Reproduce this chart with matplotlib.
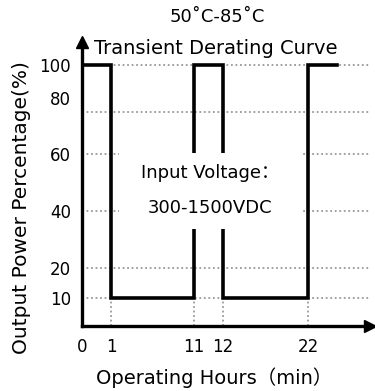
import numpy as np
import matplotlib
matplotlib.use('Agg')
import matplotlib.pyplot as plt
from matplotlib.patches import Rectangle
from matplotlib.transforms import ScaledTranslation

plt.rcParams['font.family'] = ['DejaVu Sans', 'Noto Sans CJK SC']

# transient derating curve (minutes vs output %)
hours = [0, 1, 1, 11, 11, 12, 12, 22, 22, 23]
power = [100, 100, 10, 10, 100, 100, 10, 10, 100, 100]
x_ticks = [0, 1, 11, 12, 22]
y_ticks = [10, 20, 40, 60, 80, 100]
grid_levels = [10, 20, 40, 60, 80, 100]
switch_points = [1, 11, 12, 22]

# the drawing is a schematic, so the axes are not linear
x_knots = [0, 1, 11, 12, 22, 40]
x_px = [0, 29, 112, 141, 226, 748]
y_knots = [0, 10, 20, 40, 60, 80, 100, 140]
y_px = [0, 28, 58, 115, 172, 214, 261, 375]

def xf(v): return np.interp(v, x_knots, x_px)
def xi(v): return np.interp(v, x_px, x_knots)
def yf(v): return np.interp(v, y_knots, y_px)
def yi(v): return np.interp(v, y_px, y_knots)

fig = plt.figure(figsize=(3.75, 3.91), dpi=100)
ax = fig.add_axes([82/375, 65/391, 288/375, 284/391])
ax.set_xscale('function', functions=(xf, xi))
ax.set_yscale('function', functions=(yf, yi))
ax.set_xlim(0, xi(288))
ax.set_ylim(0, yi(284))

for lvl in grid_levels:
    ax.axhline(lvl, color='#999999', lw=1.3, ls=(0, (1, 1.5)), zorder=1)
ax.vlines(switch_points, 0, 10, color='#999999', lw=1.3, ls=(0, (1, 1.5)), zorder=1)

ax.plot(hours, power, color='black', lw=2.6, solid_joinstyle='miter', zorder=3)

ax.add_patch(Rectangle((0.13, 0.34), 0.63, 0.27, transform=ax.transAxes,
                       facecolor='white', edgecolor='none', zorder=4))
ax.text(0.445, 0.54, 'Input Voltage：', transform=ax.transAxes, fontsize=13,
        ha='center', va='center', zorder=5)
ax.text(0.445, 0.415, '300-1500VDC', transform=ax.transAxes, fontsize=13,
        ha='center', va='center', zorder=5)

for s in ['top', 'right']:
    ax.spines[s].set_visible(False)
for s in ['left', 'bottom']:
    ax.spines[s].set_linewidth(2.4)
    ax.spines[s].set_zorder(6)
ax.plot([0], [1], marker='^', ms=8, color='black', transform=ax.transAxes, clip_on=False, zorder=7)
ax.plot([1], [0], marker='>', ms=8, color='black', transform=ax.transAxes, clip_on=False, zorder=7)

ax.set_xticks(x_ticks, [str(t) for t in x_ticks])
ax.set_yticks(y_ticks, [str(t) for t in y_ticks])
ax.minorticks_off()
ax.tick_params(axis='x', length=0, pad=9, labelsize=12)
ax.tick_params(axis='y', length=0, pad=8, labelsize=12)
# the "80" label sits above its grid line in the original drawing
lab80 = ax.yaxis.get_major_ticks()[4].label1
lab80.set_transform(lab80.get_transform() + ScaledTranslation(0, 14/100, fig.dpi_scale_trans))

fig.text(217/375, 1 - 17/391, '50˚C-85˚C', fontsize=13, ha='center', va='center')
fig.text(216/375, 1 - 48/391, 'Transient Derating Curve', fontsize=14, ha='center', va='center')
fig.text(214/375, 1 - 378/391, 'Operating Hours（min）', fontsize=14, ha='center', va='center')
fig.text(22/375, 1 - 208/391, 'Output Power Percentage(%)', fontsize=14.5,
         rotation=90, ha='center', va='center')

fig.savefig('out.png', dpi=100)
